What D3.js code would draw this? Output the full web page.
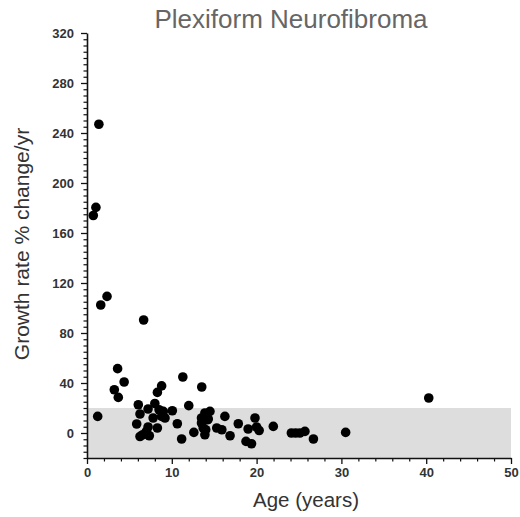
<!DOCTYPE html>
<html>
<head>
<meta charset="utf-8">
<script src="https://cdn.jsdelivr.net/npm/d3@7"></script>
<style>
  html, body { margin: 0; padding: 0; background: #ffffff; }
  svg { display: block; }
</style>
</head>
<body>
<svg id="chart" width="520" height="517"></svg>
<script>
const title = "Plexiform Neurofibroma";
const xLabel = "Age (years)";
const yLabel = "Growth rate % change/yr";

const ages = [1.4, 1.05, 0.74, 1.62, 2.36, 6.68, 1.26, 3.61, 4.38, 3.22, 3.69, 6.05, 6.25, 5.86, 6.57, 7.35, 6.25,
  7.2, 7.2, 7.0, 8.0, 8.3, 8.8, 8.5, 9.0, 7.8, 8.8, 9.2, 8.3, 10.06, 10.65, 11.16, 11.3, 12.0, 12.6, 13.53, 13.5,
  13.7, 13.9, 14.5, 13.9, 14.3, 13.5, 14.2, 13.9, 15.3, 15.9, 16.26, 16.87, 17.84, 19.0, 18.75, 19.4, 19.81, 20.0,
  20.3, 21.97, 24.1, 24.6, 25.1, 25.7, 26.7, 30.5, 40.3, 14.0];
const growth = [247, 180.5, 174, 102.4, 109.3, 90.4, 13.3, 51.5, 40.8, 34.6, 28.5, 22.6, 15.2, 7.2, -1.4, -2.2, -2.8,
  19.2, 4.8, 1.3, 23.6, 32.5, 37.7, 18.6, 17.3, 12, 13.3, 12, 4, 17.8, 7.4, -4.8, 44.8, 21.9, 0.5, 36.8, 8,
  4, -1.4, 17.3, 12, 11.2, 12, 10.6, 16, 4, 2.6, 13.3, -2.2, 7.4, 3.2, -6.7, -8.6, 12, 4.8,
  2, 5.3, 0, 0, 0, 1.3, -4.8, 0.5, 28, 2.6];

const xDomain = [0, 50];
const yDomain = [-20, 320];
const xMajorTicks = [0, 10, 20, 30, 40, 50];
const yMajorTicks = [0, 40, 80, 120, 160, 200, 240, 280, 320];
const normalBand = [-20, 20];

const margin = { left: 87, top: 33, right: 9, bottom: 59 };
const W = 520, H = 517;
const iw = W - margin.left - margin.right;
const ih = H - margin.top - margin.bottom;

const svg = d3.select("#chart");
const g = svg.append("g").attr("transform", `translate(${margin.left},${margin.top})`);

const x = d3.scaleLinear().domain(xDomain).range([0, iw]);
const y = d3.scaleLinear().domain(yDomain).range([ih, 0]);

// grey band
g.append("rect")
  .attr("x", x(xDomain[0]))
  .attr("width", x(xDomain[1]) - x(xDomain[0]))
  .attr("y", y(normalBand[1]))
  .attr("height", y(normalBand[0]) - y(normalBand[1]))
  .attr("fill", "#dcdddc");

// minor ticks
const xMinor = d3.range(0, 50.01, 2).filter(v => v % 10 !== 0);
const yMinor = d3.range(-20, 320.01, 5).filter(v => v % 40 !== 0);

const xAxisMinor = d3.axisBottom(x).tickValues(xMinor).tickSize(3.5).tickFormat("");
const yAxisMinor = d3.axisLeft(y).tickValues(yMinor).tickSize(3.5).tickFormat("");
const xAxis = d3.axisBottom(x).tickValues(xMajorTicks).tickSize(6).tickSizeOuter(0).tickPadding(4).tickFormat(d3.format("d"));
const yAxis = d3.axisLeft(y).tickValues(yMajorTicks).tickSize(6).tickSizeOuter(0).tickPadding(7).tickFormat(d3.format("d"));

function styleAxis(sel) {
  sel.selectAll("path").attr("stroke", "#111").attr("stroke-width", 1.6);
  sel.selectAll("line").attr("stroke", "#111").attr("stroke-width", 1.3);
  sel.selectAll("text")
    .attr("fill", "#333")
    .style("font-family", "'Liberation Sans', Arial, sans-serif")
    .style("font-weight", "bold")
    .style("font-size", "13px");
}

g.append("g").attr("transform", `translate(0,${ih})`).call(xAxisMinor)
  .call(s => { s.select(".domain").remove(); s.selectAll("line").attr("stroke", "#111").attr("stroke-width", 1.2); });
g.append("g").call(yAxisMinor)
  .call(s => { s.select(".domain").remove(); s.selectAll("line").attr("stroke", "#111").attr("stroke-width", 1.2); });
g.append("g").attr("transform", `translate(0,${ih})`).call(xAxis).call(styleAxis);
g.append("g").call(yAxis).call(styleAxis);

// points
g.append("g").selectAll("circle")
  .data(ages.map((a, i) => ({ a, v: growth[i] })))
  .join("circle")
  .attr("cx", d => x(d.a))
  .attr("cy", d => y(d.v))
  .attr("r", 4.8)
  .attr("fill", "#000");

// titles
svg.append("text")
  .attr("x", 291).attr("y", 28)
  .attr("text-anchor", "middle")
  .attr("fill", "#666")
  .style("font-family", "'Liberation Sans', Arial, sans-serif")
  .style("font-size", "26px")
  .text(title);

svg.append("text")
  .attr("x", 306).attr("y", 507)
  .attr("text-anchor", "middle")
  .attr("fill", "#333")
  .style("font-family", "'Liberation Sans', Arial, sans-serif")
  .style("font-size", "20.5px")
  .text(xLabel);

svg.append("text")
  .attr("transform", "translate(29,244) rotate(-90)")
  .attr("text-anchor", "middle")
  .attr("fill", "#333")
  .style("font-family", "'Liberation Sans', Arial, sans-serif")
  .style("font-size", "21px")
  .text(yLabel);
</script>
</body>
</html>
